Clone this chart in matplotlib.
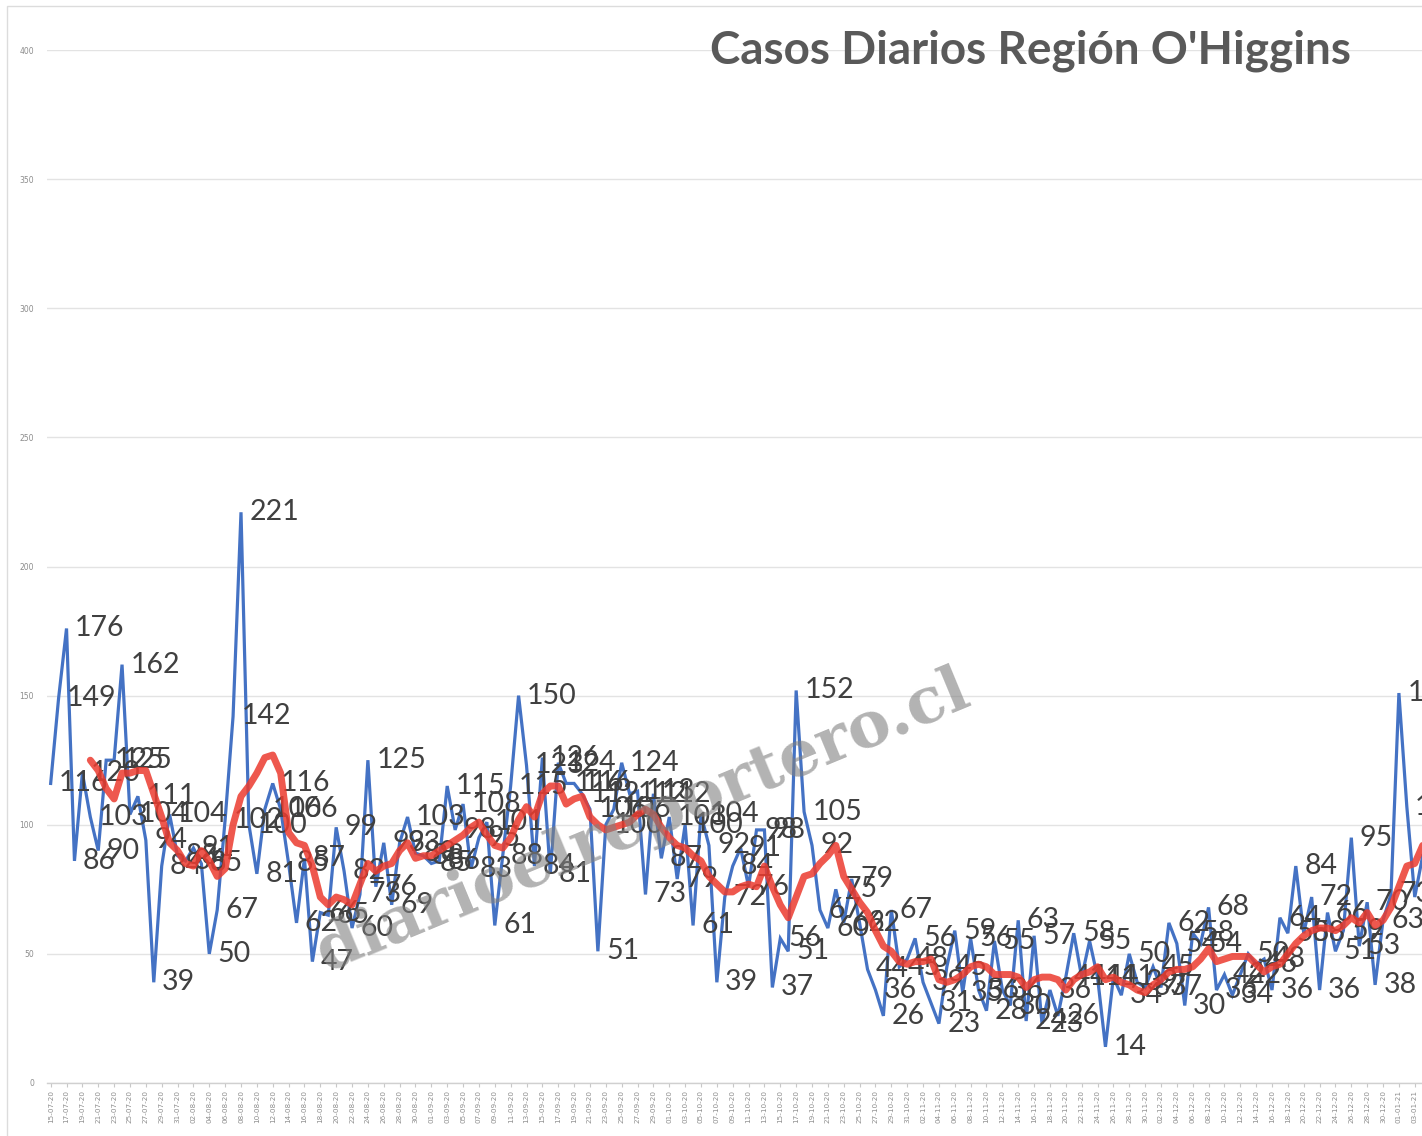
import matplotlib
matplotlib.use("Agg")
import matplotlib.pyplot as plt
import numpy as np
import pandas as pd
from matplotlib.patches import Rectangle

# daily cases (one per day from 15-07-2020)
cases = [116, 149, 176, 86, 120, 103, 90, 125, 125, 162,
         104, 111, 94, 39, 84, 104, 88, 86, 91, 85,
         50, 67, 102, 142, 221, 100, 81, 106, 116, 106,
         85, 62, 87, 47, 66, 65, 99, 82, 60, 73,
         125, 76, 93, 69, 93, 103, 89, 88, 85, 86,
         115, 98, 108, 83, 95, 101, 61, 88, 115, 150,
         123, 84, 126, 81, 124, 116, 116, 112, 106, 51,
         100, 106, 124, 112, 113, 73, 112, 87, 103, 79,
         100, 61, 104, 92, 39, 72, 84, 91, 76, 98,
         98, 37, 56, 51, 152, 105, 92, 67, 60, 75,
         62, 79, 62, 44, 36, 26, 67, 45, 48, 56,
         39, 31, 23, 45, 59, 35, 56, 36, 28, 55,
         36, 30, 63, 24, 57, 23, 36, 26, 41, 58,
         41, 55, 41, 14, 41, 34, 50, 39, 37, 45,
         37, 62, 54, 30, 58, 54, 68, 36, 42, 34,
         42, 50, 46, 48, 36, 64, 58, 84, 58, 72,
         36, 66, 51, 59, 95, 53, 70, 38, 63, 73,
         151, 107, 72, 88]

# red moving-average line, starts on day 5
avg_start = 5
avg_line = [125, 121, 114, 110, 120,
            120, 121, 121, 112, 103, 93, 90, 85, 84, 90,
            86, 80, 83, 100, 111, 115, 120, 126, 127, 120,
            97, 93, 92, 84, 72, 69, 72, 71, 69, 77,
            85, 82, 84, 85, 90, 93, 87, 88, 88, 90,
            92, 94, 96, 99, 101, 96, 92, 91, 95, 102,
            107, 103, 112, 115, 115, 108, 110, 111, 103, 100,
            98, 99, 100, 101, 104, 106, 104, 99, 95, 92,
            91, 88, 86, 80, 77, 74, 74, 76, 77, 76,
            84, 76, 69, 64, 72, 80, 81, 85, 88, 92,
            80, 75, 70, 66, 59, 53, 51, 47, 46, 47,
            47, 48, 40, 39, 40, 42, 45, 46, 45, 42,
            42, 42, 41, 37, 40, 41, 41, 40, 36, 40,
            42, 43, 45, 40, 41, 39, 38, 36, 35, 38,
            40, 43, 44, 44, 45, 48, 52, 47, 48, 49,
            49, 49, 46, 43, 45, 46, 50, 54, 57, 59,
            60, 60, 59, 61, 64, 62, 66, 61, 63, 68,
            76, 84, 85, 92]

start_date = "2020-07-15"
y_ticks = [0, 50, 100, 150, 200, 250, 300, 350, 400]
title = "Casos Diarios Región O'Higgins"
watermark = "diarioelreportero.cl"

dates = pd.date_range(start_date, periods=len(cases), freq="D")
date_labels = [d.strftime("%d-%m-%y") for d in dates]
days = np.arange(len(cases))
avg_days = np.arange(avg_start, avg_start + len(avg_line))

W, H = 1422, 1136
fig = plt.figure(figsize=(W / 100, H / 100), dpi=100)

# axes run a bit past the right edge, like the cropped screenshot
ax_left = 46.7 / W
ax_bottom = (H - 1083) / H
ax_top = (H - 50) / H
ax_right = (50.8 + 7.93 * 173.5) / W
ax = fig.add_axes([ax_left, ax_bottom, ax_right - ax_left, ax_top - ax_bottom])

ax.set_xlim(-0.5, 173.5)
ax.set_ylim(0, 400)

ax.plot(days, cases, color="#4472C4", lw=2.3, zorder=2, solid_joinstyle="miter")

for d, v in zip(days, cases):
    ax.annotate(str(v), (d, v), xytext=(6, 0), textcoords="offset points",
                ha="left", va="center", fontsize=20.5, family="Lato",
                color="#404040", zorder=3, annotation_clip=False)

ax.plot(avg_days, avg_line, color="#EB3B2F", lw=5, alpha=0.85, zorder=4,
        solid_joinstyle="round", solid_capstyle="round")

# axes styling
ax.set_yticks(y_ticks)
ax.set_yticklabels([str(t) for t in y_ticks], fontsize=5.5, color="#8c8c8c")
ax.tick_params(axis="y", length=0, pad=9)
ax.grid(axis="y", color="#e3e3e3", lw=1.0, zorder=0)
ax.set_axisbelow(True)

ax.set_xticks(days[::2])
ax.set_xticklabels(date_labels[::2], rotation=90, fontsize=5.2, color="#8c8c8c")
ax.tick_params(axis="x", length=3, color="#c8c8c8", pad=2)

for side in ["top", "right", "left"]:
    ax.spines[side].set_visible(False)
ax.spines["bottom"].set_color("#d0d0d0")
ax.spines["bottom"].set_linewidth(1.0)

# chart frame
fig.patches.append(Rectangle((7 / W, -0.1), 1.2, (H - 6) / H + 0.1,
                             transform=fig.transFigure, fill=False,
                             edgecolor="#dcdcdc", lw=1.0))

fig.text(1031 / W, (H - 64) / H, title, ha="center", va="baseline",
         fontsize=33, fontweight="bold", family="Lato", color="#595959")

fig.text(643 / W, (H - 822) / H, watermark, ha="center", va="center",
         rotation=22.5, fontsize=46, fontweight="bold", family="DejaVu Serif",
         color="#808080", alpha=0.6, zorder=5)

fig.savefig("out.png", dpi=100)
